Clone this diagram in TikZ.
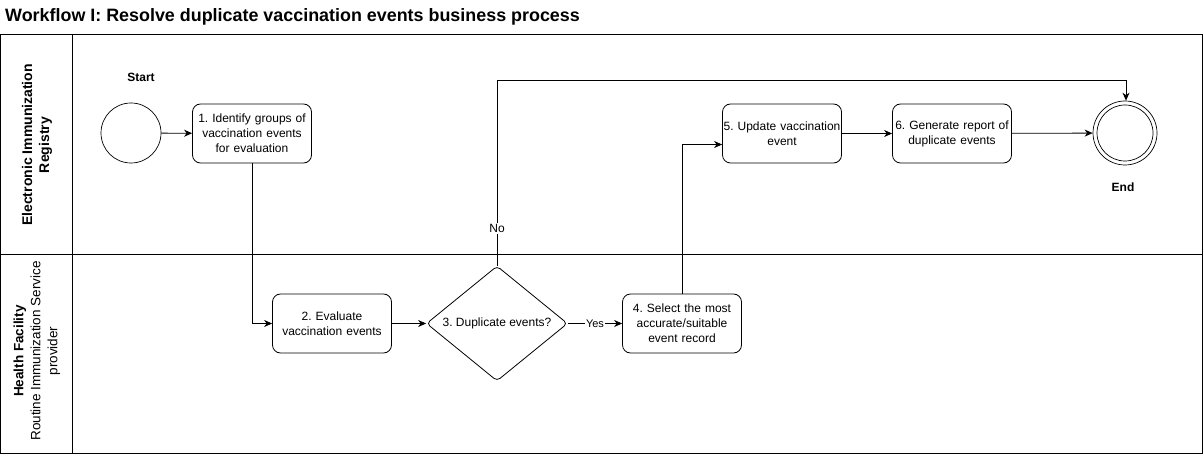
\documentclass[tikz,border=0pt]{standalone}
\usepackage{fontspec}
\setmainfont{Liberation Sans}
\usetikzlibrary{arrows.meta,shapes.geometric}
\frenchspacing
\begin{document}
\begin{tikzpicture}[x=1pt,y=-1pt,
  every node/.style={font=\fontsize{12}{15}\selectfont, inner sep=0pt},
  task/.style={draw, rounded corners=8pt, line width=0.8pt, minimum width=119pt, minimum height=59pt, align=center, text width=117pt},
  line/.style={line width=0.8pt},
  arr/.style={line, -{Stealth[length=8pt,width=7pt,inset=2.5pt]}},
  lbl/.style={font=\bfseries\fontsize{12}{14}\selectfont},
  lanelbl/.style={rotate=90, align=center, font=\fontsize{13.5}{17}\selectfont}]
\useasboundingbox (0,0) rectangle (1204,454);
% title
\node[anchor=base west, font=\bfseries\fontsize{17.9}{20}\selectfont] (title) at (5,22) {Workflow I: Resolve duplicate vaccination events business process};
% pool
\draw[line] (0.5,34) rectangle (1202.5,453);
\draw[line] (72,34) -- (72,453);
\draw[line] (0.5,254) -- (1202.5,254);
\node[lanelbl, font=\bfseries\fontsize{14}{17}\selectfont] (lane1) at (37,145) {Electronic Immunization\\Registry};
\node[lanelbl] (lane2) at (37,351) {\textbf{Health Facility}\\Routine Immunization Service\\provider};
% events
\node[draw, circle, line width=0.7pt, minimum size=60pt] (start) at (131,133) {};
\node[lbl] (startl) at (141,77) {Start};
\node[draw, circle, line width=0.7pt, minimum size=64pt] (end) at (1125,133) {};
\node[draw, circle, line width=0.7pt, minimum size=56pt] (endin) at (1125,133) {};
\node[lbl] (endl) at (1123,187) {End};
% tasks
\node[task] (t1) at (252,133.5) {1. Identify groups of\\vaccination events\\for evaluation};
\node[task] (t2) at (332,323.5) {2. Evaluate\\vaccination events};
\node[draw, diamond, line width=0.8pt, rounded corners=4pt, minimum width=141pt, minimum height=115pt, aspect=1.22] (d3) at (497,323.5) {3. Duplicate events?};
\node[task] (t4) at (682,323.5) {4. Select the most\\accurate/suitable\\event record};
\node[task] (t5) at (782,133.5) {5. Update vaccination\\event};
\node[task] (t6) at (952,133.5) {6. Generate report of\\duplicate events};
% connectors
\draw[arr] (start) -- (t1);
\draw[arr] (t1.south) |- (t2.west);
\draw[arr] (t2) -- (d3);
\draw[arr] (d3) -- node[fill=white, inner sep=1pt, font=\fontsize{11}{14}\selectfont] (yes) {Yes} (t4);
\draw[arr] (t4.north) |- ([yshift=-11pt]t5.west);
\draw[arr] (t5) -- (t6);
\draw[arr] (t6) -- (end);
\coordinate (c1) at (497,80);
\coordinate (c2) at (1126,80);
\draw[arr] (d3.north) -- node[pos=0.2, fill=white, inner sep=1.5pt] (no) {No} (c1) -- (c2) -- (end.north -| c2);
\end{tikzpicture}
\end{document}
